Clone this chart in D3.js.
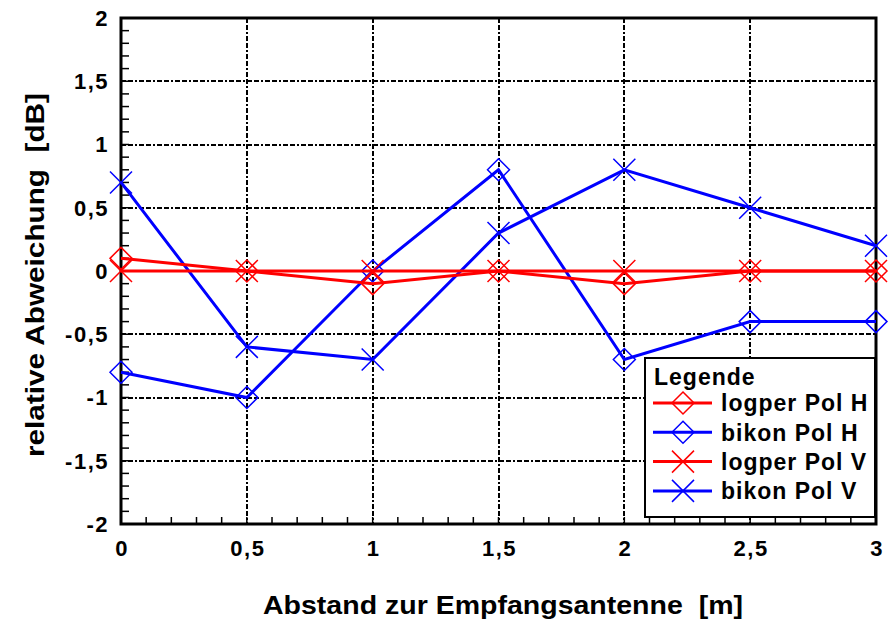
<!DOCTYPE html>
<html>
<head>
<meta charset="utf-8">
<script src="https://cdn.jsdelivr.net/npm/d3@7"></script>
<style>
  body { margin: 0; background: #fff; }
  svg { display: block; font-family: "Liberation Sans", Arial, sans-serif; font-weight: bold; }
</style>
</head>
<body>
<div id="chart"></div>
<script>
// distances along x (m)
var abstand = [0, 0.5, 1, 1.5, 2, 2.5, 3];

// relative deviation per antenna / polarisation (dB)
var logperPolH = [0.1, 0, -0.1, 0, -0.1, 0, 0];
var bikonPolH = [-0.8, -1.0, 0, 0.8, -0.7, -0.4, -0.4];
var logperPolV = [0, 0, 0, 0, 0, 0, 0];
var bikonPolV = [0.7, -0.6, -0.7, 0.3, 0.8, 0.5, 0.2];

var xTicks = [0, 0.5, 1, 1.5, 2, 2.5, 3];
var yTicks = [-2, -1.5, -1, -0.5, 0, 0.5, 1, 1.5, 2];

var series = [
  { name: 'logper Pol H', values: logperPolH, color: '#ff0000', marker: 'diamond' },
  { name: 'bikon Pol H', values: bikonPolH, color: '#0000ff', marker: 'diamond' },
  { name: 'logper Pol V', values: logperPolV, color: '#ff0000', marker: 'cross' },
  { name: 'bikon Pol V', values: bikonPolV, color: '#0000ff', marker: 'cross' }
];
// blue drawn first, red on top
var drawOrder = [1, 3, 0, 2];

var width = 894, height = 630;
var margin = { left: 121, right: 18, top: 18, bottom: 106 };

var svg = d3.select('#chart').append('svg')
  .attr('width', width)
  .attr('height', height);

var x = d3.scaleLinear().domain([0, 3]).range([margin.left, width - margin.right]);
var y = d3.scaleLinear().domain([-2, 2]).range([height - margin.bottom, margin.top]);

var fmt = function(d) { return String(d).replace('.', ','); };

// grid (dash-dot)
var grid = svg.append('g').attr('stroke', '#000').attr('stroke-width', 2)
  .attr('stroke-dasharray', '5,2,5,2,2,2').attr('shape-rendering', 'crispEdges');
grid.selectAll('.gx').data(xTicks.slice(1, -1)).enter().append('line')
  .attr('x1', function(d) { return Math.round(x(d)); }).attr('x2', function(d) { return Math.round(x(d)); })
  .attr('y1', y(2)).attr('y2', y(-2));
grid.selectAll('.gy').data(yTicks.slice(1, -1)).enter().append('line')
  .attr('y1', function(d) { return Math.round(y(d)); }).attr('y2', function(d) { return Math.round(y(d)); })
  .attr('x1', x(0)).attr('x2', x(3));

// minor ticks, pointing inward
var minorX = d3.range(0, 3.001, 0.1);
var minorY = d3.range(-2, 2.001, 0.1);
var ticks = svg.append('g').attr('stroke', '#000').attr('stroke-width', 1.5);
ticks.selectAll('.tx').data(minorX).enter().append('line')
  .attr('x1', function(d) { return x(d); }).attr('x2', function(d) { return x(d); })
  .attr('y1', y(-2)).attr('y2', y(-2) - 7);
ticks.selectAll('.ty').data(minorY).enter().append('line')
  .attr('y1', function(d) { return y(d); }).attr('y2', function(d) { return y(d); })
  .attr('x1', x(0)).attr('x2', x(0) + 8);

// frame
svg.append('rect')
  .attr('x', x(0)).attr('y', y(2))
  .attr('width', x(3) - x(0)).attr('height', y(-2) - y(2))
  .attr('fill', 'none').attr('stroke', '#000').attr('stroke-width', 3);

// tick labels
svg.append('g').selectAll('text').data(yTicks).enter().append('text')
  .attr('x', x(0) - 12).attr('y', function(d) { return y(d); })
  .attr('dy', '0.36em')
  .attr('text-anchor', 'end')
  .style('font-size', '22px')
  .style('letter-spacing', '1.5px')
  .text(fmt);
svg.append('g').selectAll('text').data(xTicks).enter().append('text')
  .attr('x', function(d) { return x(d) + 1; }).attr('y', y(-2) + 32)
  .attr('text-anchor', 'middle')
  .style('font-size', '22px')
  .style('letter-spacing', '1.5px')
  .text(fmt);

// axis titles
svg.append('text')
  .attr('x', 503).attr('y', 614)
  .attr('text-anchor', 'middle')
  .attr('textLength', 480).attr('lengthAdjust', 'spacingAndGlyphs')
  .style('font-size', '25px')
  .style('white-space', 'pre')
  .text('Abstand zur Empfangsantenne  [m]');
svg.append('text')
  .attr('transform', 'translate(44,275) rotate(-90)')
  .attr('text-anchor', 'middle')
  .attr('textLength', 364).attr('lengthAdjust', 'spacingAndGlyphs')
  .style('font-size', '25px')
  .style('white-space', 'pre')
  .text('relative Abweichung  [dB]');

// markers
var drawMarker = function(g, cx, cy, s) {
  if (s.marker === 'diamond') {
    g.append('path')
      .attr('d', 'M' + cx + ',' + (cy - 11) + 'L' + (cx + 11) + ',' + cy + 'L' + cx + ',' + (cy + 11) + 'L' + (cx - 11) + ',' + cy + 'Z')
      .attr('fill', 'none').attr('stroke', s.color).attr('stroke-width', 1.5);
  } else {
    g.append('path')
      .attr('d', 'M' + (cx - 11) + ',' + (cy - 11) + 'L' + (cx + 11) + ',' + (cy + 11) + 'M' + (cx + 11) + ',' + (cy - 11) + 'L' + (cx - 11) + ',' + (cy + 11))
      .attr('fill', 'none').attr('stroke', s.color).attr('stroke-width', 1.5);
  }
};

var line = d3.line()
  .x(function(d, i) { return x(abstand[i]); })
  .y(function(d) { return y(d); });

var plot = svg.append('g');
drawOrder.forEach(function(k) {
  var s = series[k];
  var g = plot.append('g');
  g.append('path')
    .attr('d', line(s.values))
    .attr('fill', 'none').attr('stroke', s.color).attr('stroke-width', 3);
  s.values.forEach(function(v, i) {
    drawMarker(g, x(abstand[i]), y(v), s);
  });
});

// legend
var legend = svg.append('g').attr('transform', 'translate(645,358)');
legend.append('rect')
  .attr('width', 230).attr('height', 159)
  .attr('fill', '#fff').attr('stroke', '#000').attr('stroke-width', 2);
legend.append('text')
  .attr('x', 9).attr('y', 27)
  .style('font-size', '23px')
  .style('letter-spacing', '1px')
  .text('Legende');
series.forEach(function(s, i) {
  var cy = 45 + i * 29.3;
  var g = legend.append('g');
  g.append('line')
    .attr('x1', 8).attr('x2', 67).attr('y1', cy).attr('y2', cy)
    .attr('stroke', s.color).attr('stroke-width', 3);
  drawMarker(g, 38, cy, s);
  g.append('text')
    .attr('x', 76).attr('y', cy).attr('dy', '0.36em')
    .style('font-size', '23px')
    .style('letter-spacing', '1px')
    .text(s.name);
});
</script>
</body>
</html>
